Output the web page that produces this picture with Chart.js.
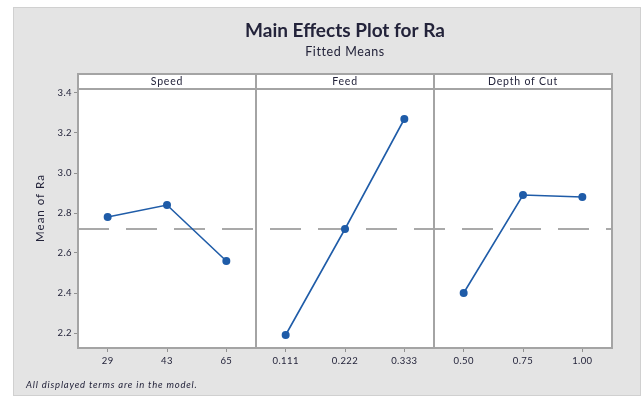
<!DOCTYPE html>
<html>
<head>
<meta charset="utf-8">
<script src="https://cdn.jsdelivr.net/npm/chart.js@4/dist/chart.umd.min.js"></script>
<style>
  html, body { margin: 0; padding: 0; background: #ffffff; }
  #wrap { position: relative; width: 643px; height: 396px; }
</style>
</head>
<body>
<div id="wrap"><canvas id="chart" width="643" height="396"></canvas></div>
<script>
// Factor names and their levels
const factorNames = ['Speed', 'Feed', 'Depth of Cut'];
const speedLevels = ['29', '43', '65'];
const feedLevels = ['0.111', '0.222', '0.333'];
const depthLevels = ['0.50', '0.75', '1.00'];

// Fitted means of Ra at each level
const speedMeans = [2.78, 2.84, 2.56];
const feedMeans = [2.19, 2.72, 3.27];
const depthMeans = [2.40, 2.89, 2.88];

// Overall mean (reference line)
const grandMean = 2.72;

// Y axis tick labels
const yTicks = [2.2, 2.4, 2.6, 2.8, 3.0, 3.2, 3.4];

const TITLE = 'Main Effects Plot for Ra';
const SUBTITLE = 'Fitted Means';
const Y_TITLE = 'Mean of Ra';
const FOOTNOTE = 'All displayed terms are in the model.';

const levelSets = [speedLevels, feedLevels, depthLevels];
const meanSets = [speedMeans, feedMeans, depthMeans];
const allLevels = [].concat(...levelSets);
const nPanels = levelSets.length;
const perPanel = 3;

const lineColor = '#1f5ca8';
const frameColor = '#a4a4a4';
const textColor = '#23233a';
const fontFamily = 'Lato, "Open Sans", sans-serif';

// Each factor gets its own panel along one shared x scale
const effectSets = meanSets.map((means, p) => ({
  label: factorNames[p],
  data: means.map((m, i) => ({ x: p * perPanel + i, y: m })),
  borderColor: lineColor,
  backgroundColor: lineColor,
  borderWidth: 1.6,
  pointRadius: 3.2,
  pointHoverRadius: 3.2,
  pointStyle: 'circle',
  tension: 0,
  order: 0
}));

const xMin = -0.5, xMax = nPanels * perPanel - 0.5;

const meanLine = {
  label: 'Mean',
  data: [{ x: xMin, y: grandMean }, { x: xMax, y: grandMean }],
  borderColor: '#a9a9a9',
  borderWidth: 2,
  borderDash: [31, 17],
  pointRadius: 0,
  tension: 0,
  order: 5
};

const panelPlugin = {
  id: 'panelDecor',
  beforeDraw(chart) {
    const { ctx, chartArea: a } = chart;
    ctx.save();
    ctx.fillStyle = '#ffffff';
    ctx.fillRect(0, 0, chart.width, chart.height);
    // grey page
    ctx.fillStyle = '#e4e4e4';
    ctx.fillRect(13, 7, 628, 388);
    ctx.strokeStyle = '#d0d0d0';
    ctx.lineWidth = 1;
    ctx.strokeRect(13.5, 7.5, 627, 388);
    // white panels and strip
    ctx.fillStyle = '#ffffff';
    ctx.fillRect(a.left, a.top - 15, a.right - a.left, a.bottom - a.top + 15);
    ctx.restore();
    // slightly open lettering for the axis tick labels
    ctx.letterSpacing = '0.4px';
  },
  afterDraw(chart) {
    const { ctx, chartArea: a } = chart;
    const xs = chart.scales.x;
    const stripTop = a.top - 15;
    ctx.save();
    ctx.strokeStyle = frameColor;
    ctx.lineWidth = 2;
    ctx.strokeRect(a.left, stripTop, a.right - a.left, a.bottom - stripTop);
    ctx.beginPath();
    ctx.moveTo(a.left, a.top);
    ctx.lineTo(a.right, a.top);
    for (let p = 1; p < nPanels; p++) {
      const x = Math.round(xs.getPixelForValue(p * perPanel - 0.5));
      ctx.moveTo(x, stripTop);
      ctx.lineTo(x, a.bottom);
    }
    ctx.stroke();

    // strip labels
    ctx.fillStyle = textColor;
    ctx.textAlign = 'center';
    ctx.textBaseline = 'middle';
    ctx.letterSpacing = '0.8px';
    ctx.font = '10.5px ' + fontFamily;
    factorNames.forEach((name, p) => {
      const cx = xs.getPixelForValue(p * perPanel + (perPanel - 1) / 2);
      ctx.fillText(name, cx, stripTop + 7.5);
    });

    // titles
    const cx = (a.left + a.right) / 2;
    ctx.letterSpacing = '0px';
    ctx.font = 'bold 19px ' + fontFamily;
    ctx.fillText(TITLE, cx, 31);
    ctx.letterSpacing = '0.6px';
    ctx.font = '12.5px ' + fontFamily;
    ctx.fillText(SUBTITLE, cx, 52);

    // y axis title
    ctx.save();
    ctx.translate(40, 208);
    ctx.rotate(-Math.PI / 2);
    ctx.letterSpacing = '1px';
    ctx.font = '11.5px ' + fontFamily;
    ctx.fillText(Y_TITLE, 0, 0);
    ctx.restore();

    // footnote
    ctx.textAlign = 'left';
    ctx.letterSpacing = '0.8px';
    ctx.font = 'italic 9.5px ' + fontFamily;
    ctx.fillText(FOOTNOTE, 26, 385);
    ctx.restore();
  }
};

new Chart(document.getElementById('chart'), {
  type: 'line',
  data: { datasets: [...effectSets, meanLine] },
  options: {
    responsive: false,
    animation: false,
    events: [],
    layout: { padding: { top: 89, right: 31, bottom: 18, left: 0 } },
    plugins: { legend: { display: false }, tooltip: { enabled: false }, title: { display: false } },
    scales: {
      x: {
        type: 'linear',
        min: xMin,
        max: xMax,
        afterBuildTicks(scale) {
          scale.ticks = allLevels.map((_, i) => ({ value: i }));
        },
        afterFit(scale) { scale.height = 30; },
        ticks: {
          autoSkip: false,
          maxRotation: 0,
          padding: 3,
          color: textColor,
          font: { family: fontFamily, size: 9.5 },
          callback: (v) => allLevels[Math.round(v)]
        },
        grid: { drawOnChartArea: false, tickLength: 4, color: '#909090' },
        border: { display: false }
      },
      y: {
        type: 'linear',
        min: 2.125,
        max: 3.42,
        afterBuildTicks(scale) {
          scale.ticks = yTicks.map(v => ({ value: v }));
        },
        afterFit(scale) { scale.width = 78; },
        ticks: {
          padding: 2,
          color: textColor,
          font: { family: fontFamily, size: 9.5 },
          callback: (v) => Number(v).toFixed(1)
        },
        grid: { drawOnChartArea: false, tickLength: 4, color: '#909090' },
        border: { display: false }
      }
    }
  },
  plugins: [panelPlugin]
});
</script>
</body>
</html>
